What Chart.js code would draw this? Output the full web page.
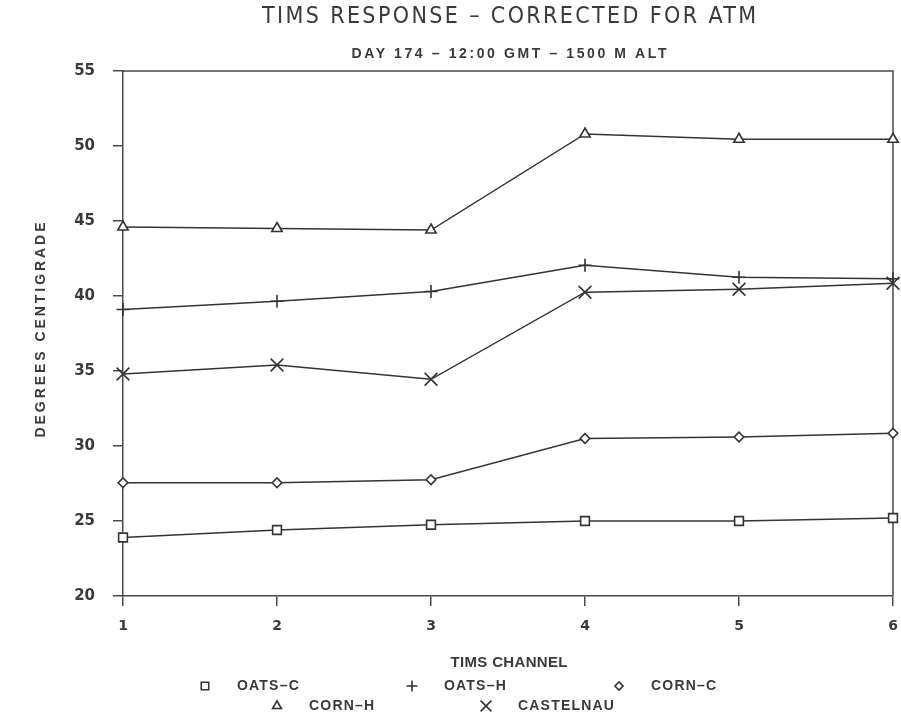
<!DOCTYPE html>
<html>
<head>
<meta charset="utf-8">
<script src="https://cdn.jsdelivr.net/npm/chart.js@4/dist/chart.umd.min.js"></script>
<style>
  html, body { margin: 0; padding: 0; background: #fff; }
  canvas { display: block; }
</style>
</head>
<body>
<canvas id="tims" width="901" height="718"></canvas>
<script>
// TIMS channel temperatures, degrees C
const channels = ["1", "2", "3", "4", "5", "6"];
const oatsC = [23.9, 24.4, 24.75, 25.0, 25.0, 25.2];
const oatsH = [39.1, 39.65, 40.3, 42.05, 41.25, 41.15];
const cornC = [27.55, 27.55, 27.75, 30.5, 30.6, 30.85];
const cornH = [44.6, 44.5, 44.4, 50.8, 50.45, 50.45];
const castelnau = [34.8, 35.4, 34.45, 40.25, 40.45, 40.85];

const seriesNames = ["OATS–C", "OATS–H", "CORN–C", "CORN–H", "CASTELNAU"];
const yMin = 20;
const yMax = 55;
const yStep = 5;

const ink = "#333";
const axisInk = "#4a4a4a";
const textInk = "#3a3a3a";
const sans = '"Liberation Sans", Arial, sans-serif';
const tickFont = '"DejaVu Sans", sans-serif';

// draw text stretched with letter spacing so it fills a given width
function fitText(ctx, text, cx, cy, width) {
    ctx.letterSpacing = "0px";
    const w0 = ctx.measureText(text).width;
    const gap = Math.max(0, (width - w0) / (text.length - 1));
    ctx.letterSpacing = gap + "px";
    ctx.textAlign = "left";
    ctx.textBaseline = "middle";
    ctx.fillText(text, cx - width / 2, cy);
    ctx.letterSpacing = "0px";
}

function spacedText(ctx, text, x, y, gap) {
    ctx.letterSpacing = gap + "px";
    ctx.textAlign = "left";
    ctx.textBaseline = "middle";
    ctx.fillText(text, x, y);
    ctx.letterSpacing = "0px";
}

const markers = [
    { pointStyle: "rect", radius: 6.2 },
    { pointStyle: "cross", radius: 6.5 },
    { pointStyle: "rectRot", radius: 4.8 },
    { pointStyle: "triangle", radius: 6 },
    { pointStyle: "crossRot", radius: 9 },
];

const values = [oatsC, oatsH, cornC, cornH, castelnau];

const datasets = values.map((v, i) => ({
    label: seriesNames[i],
    data: v,
    borderColor: ink,
    borderWidth: 1.4,
    backgroundColor: "#fff",
    pointStyle: markers[i].pointStyle,
    pointRadius: markers[i].radius,
    pointBorderWidth: 1.6,
    pointBorderColor: ink,
    pointBackgroundColor: "#fff",
    tension: 0,
    clip: false,
}));

// frame, titles and the two-row legend under the axis
const decorations = {
    id: "decorations",
    beforeDatasetsDraw(chart) {
        const { ctx, chartArea: a } = chart;
        ctx.save();
        ctx.strokeStyle = axisInk;
        ctx.lineWidth = 1.5;
        ctx.beginPath();
        ctx.moveTo(a.left, a.top);
        ctx.lineTo(a.right, a.top);
        ctx.lineTo(a.right, a.bottom);
        ctx.stroke();
        ctx.restore();
    },
    afterDraw(chart) {
        const { ctx } = chart;
        const cx = 509;
        ctx.save();
        ctx.fillStyle = textInk;

        ctx.font = '400 23px "Liberation Sans Narrow", "DejaVu Sans Condensed", ' + sans;
        fitText(ctx, "TIMS RESPONSE – CORRECTED FOR ATM", cx, 17, 494);

        ctx.font = "700 14px " + sans;
        fitText(ctx, "DAY 174 – 12:00 GMT – 1500 M ALT", cx, 54, 315);

        ctx.font = "700 15px " + sans;
        fitText(ctx, "TIMS CHANNEL", cx, 663, 117);

        ctx.save();
        ctx.translate(41, 330);
        ctx.rotate(-Math.PI / 2);
        ctx.font = "700 14px " + sans;
        fitText(ctx, "DEGREES CENTIGRADE", 0, 0, 215);
        ctx.restore();

        // legend: three entries on the first row, two on the second
        const rows = [
            { y: 686, x0: 205, step: 207, items: [0, 1, 2] },
            { y: 706, x0: 277, step: 209, items: [3, 4] },
        ];
        ctx.font = "700 14px " + sans;
        rows.forEach((row) => {
            row.items.forEach((di, k) => {
                const mx = row.x0 + k * row.step;
                ctx.strokeStyle = ink;
                ctx.fillStyle = "#fff";
                ctx.lineWidth = 1.6;
                Chart.helpers.drawPoint(ctx, {
                    pointStyle: markers[di].pointStyle,
                    radius: markers[di].radius * 0.85,
                    borderWidth: 1.6,
                    rotation: 0,
                }, mx, row.y);
                ctx.fillStyle = textInk;
                spacedText(ctx, chart.data.datasets[di].label, mx + 32, row.y, 1.2);
            });
        });
        ctx.restore();
    },
};

new Chart(document.getElementById("tims"), {
    type: "line",
    data: { labels: channels, datasets },
    plugins: [decorations],
    options: {
        responsive: false,
        animation: false,
        layout: {
            autoPadding: false,
            padding: { top: 71, right: 8, left: 0, bottom: 0 },
        },
        plugins: {
            legend: { display: false },
            title: { display: false },
            tooltip: { enabled: false },
        },
        scales: {
            x: {
                offset: false,
                afterFit(scale) {
                    scale.height = 122;
                    scale.paddingLeft = 0;
                    scale.paddingRight = 0;
                },
                grid: {
                    display: true,
                    drawOnChartArea: false,
                    drawTicks: true,
                    tickLength: 10,
                    color: axisInk,
                    lineWidth: 1.5,
                },
                border: { display: true, color: axisInk, width: 1.5 },
                ticks: {
                    color: textInk,
                    padding: 12,
                    maxRotation: 0,
                    font: { family: tickFont, size: 14, weight: "bold" },
                },
            },
            y: {
                min: yMin,
                max: yMax,
                afterFit(scale) {
                    scale.width = 123;
                    scale.paddingTop = 0;
                    scale.paddingBottom = 0;
                },
                grid: {
                    display: true,
                    drawOnChartArea: false,
                    drawTicks: true,
                    tickLength: 10,
                    color: axisInk,
                    lineWidth: 1.5,
                },
                border: { display: true, color: axisInk, width: 1.5 },
                ticks: {
                    stepSize: yStep,
                    color: textInk,
                    padding: 18,
                    font: { family: tickFont, size: 15, weight: "bold" },
                },
            },
        },
    },
});
</script>
</body>
</html>
